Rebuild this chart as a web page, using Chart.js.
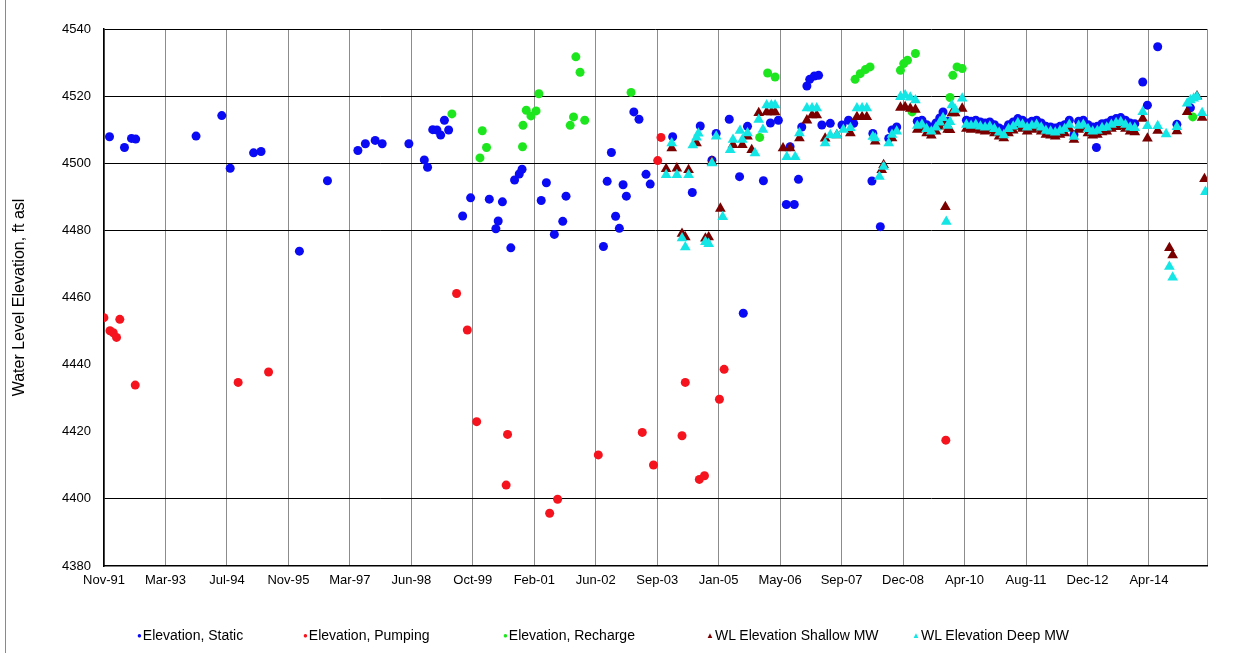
<!DOCTYPE html>
<html>
<head>
<meta charset="utf-8">
<script src="https://cdn.jsdelivr.net/npm/chart.js@4.4.1/dist/chart.umd.min.js"></script>
<style>
    html, body { margin: 0; padding: 0; background: #fff; }
    #wrap { position: relative; width: 1252px; height: 653px; overflow: hidden; }
    #frame { position: absolute; left: 5px; top: 0; width: 1px; height: 653px; background: #8a8a8a; }
    #legend { position: absolute; left: 137px; top: 627px; display: flex;
              font-family: 'Liberation Sans', Arial, sans-serif; font-size: 14px; color: #000; white-space: nowrap; }
    #legend .sym { font-size: 8px; margin-right: 1px; position: relative; top: -2px; }
</style>
</head>
<body>
<div id="wrap">
    <canvas id="chartWL" width="1252" height="653"></canvas>
    <div id="frame"></div>
    <div id="legend"></div>
</div>
<script>
// x values are decimal years, y values are ft asl
var xTickLabels = ['Nov-91', 'Mar-93', 'Jul-94', 'Nov-95', 'Mar-97', 'Jun-98', 'Oct-99', 'Feb-01', 'Jun-02',
    'Sep-03', 'Jan-05', 'May-06', 'Sep-07', 'Dec-08', 'Apr-10', 'Aug-11', 'Dec-12', 'Apr-14'];
var xFirstTick = 1991.912;        // 30-Nov-91
var xTickStep = 480 / 365.25;     // excel major unit = 480 days
var xMax = 2015.494;
var yDarkLines = [4400, 4480, 4500, 4520, 4540];

var staticElev = [
    [1992.03, 4507.9], [1992.35, 4504.7], [1992.50, 4507.4], [1992.59, 4507.2], [1993.88, 4508.1], [1994.43, 4514.2],
    [1994.61, 4498.5], [1995.11, 4503.1], [1995.27, 4503.5], [1996.09, 4473.8], [1996.69, 4494.8], [1997.34, 4503.8],
    [1997.50, 4505.8], [1997.71, 4506.8], [1997.86, 4505.8], [1998.43, 4505.8], [1998.76, 4501.0], [1998.83, 4498.8],
    [1998.94, 4510.0], [1999.03, 4509.9], [1999.11, 4508.4], [1999.19, 4512.8], [1999.28, 4509.9], [1999.58, 4484.3],
    [1999.75, 4489.7], [2000.15, 4489.3], [2000.29, 4480.5], [2000.34, 4482.8], [2000.43, 4488.5], [2000.61, 4474.8],
    [2000.69, 4495.0], [2000.79, 4496.8], [2000.85, 4498.2], [2001.26, 4488.9], [2001.37, 4494.2], [2001.54, 4478.8],
    [2001.72, 4482.7], [2001.79, 4490.2], [2002.59, 4475.2], [2002.67, 4494.6], [2002.76, 4503.2], [2002.85, 4484.2],
    [2002.93, 4480.6], [2003.01, 4493.6], [2003.08, 4490.2], [2003.24, 4515.3], [2003.35, 4513.1], [2003.50, 4496.7],
    [2003.59, 4493.8], [2004.07, 4507.9], [2004.49, 4491.3], [2004.66, 4511.1], [2004.91, 4500.9], [2005.00, 4508.9],
    [2005.28, 4513.1], [2005.50, 4496.0], [2005.58, 4455.3], [2005.67, 4511.0], [2006.01, 4494.8], [2006.16, 4512.0],
    [2006.33, 4512.8], [2006.50, 4487.7], [2006.58, 4504.9], [2006.67, 4487.7], [2006.76, 4495.2], [2006.83, 4510.8],
    [2006.94, 4523.0], [2007.00, 4525.0], [2007.10, 4526.0], [2007.19, 4526.2], [2007.26, 4511.4], [2007.44, 4511.9],
    [2007.69, 4511.4], [2007.83, 4512.8], [2007.94, 4511.9], [2008.33, 4494.7], [2008.35, 4508.9], [2008.51, 4481.1],
    [2008.69, 4507.4], [2008.76, 4509.9], [2008.86, 4510.8],
    [2009.30, 4512.5], [2009.40, 4512.8], [2009.50, 4511.5], [2009.60, 4510.8], [2009.70, 4512.0], [2009.78, 4513.5],
    [2009.85, 4515.3], [2009.95, 4512.5], [2010.35, 4512.8], [2010.45, 4512.5], [2010.55, 4512.8], [2010.65, 4512.3],
    [2010.75, 4512.0], [2010.85, 4512.3], [2010.95, 4511.5], [2011.05, 4510.5], [2011.15, 4510.0], [2011.25, 4511.5],
    [2011.35, 4512.3], [2011.45, 4513.3], [2011.55, 4512.8], [2011.65, 4512.0], [2011.75, 4512.5], [2011.85, 4512.8],
    [2011.95, 4512.0], [2012.05, 4511.0], [2012.15, 4510.8], [2012.25, 4510.5], [2012.35, 4511.0], [2012.45, 4511.5],
    [2012.55, 4512.8], [2012.65, 4508.5], [2012.75, 4512.5], [2012.85, 4512.8], [2012.95, 4511.5], [2013.05, 4510.8],
    [2013.13, 4504.7], [2013.15, 4511.0], [2013.25, 4511.8], [2013.35, 4512.0], [2013.45, 4512.8], [2013.55, 4513.3],
    [2013.65, 4513.6], [2013.75, 4512.8], [2013.85, 4512.0], [2013.95, 4511.8],
    [2014.12, 4524.2], [2014.22, 4517.3], [2014.44, 4534.7], [2014.85, 4511.6], [2015.14, 4516.5]
];

var pumpingElev = [
    [1991.91, 4454.0], [1992.04, 4450.1], [1992.11, 4449.5], [1992.18, 4448.1], [1992.25, 4453.5], [1992.58, 4433.9],
    [1994.78, 4434.7], [1995.43, 4437.8], [1999.45, 4461.2], [1999.68, 4450.3], [1999.88, 4423.0], [2000.51, 4404.1],
    [2000.54, 4419.2], [2001.44, 4395.7], [2001.61, 4399.9], [2002.48, 4413.1], [2003.42, 4419.8], [2003.66, 4410.1],
    [2003.75, 4500.8], [2003.82, 4507.7], [2004.27, 4418.8], [2004.34, 4434.7], [2004.64, 4405.8], [2004.75, 4406.9],
    [2005.07, 4429.7], [2005.17, 4438.6], [2009.91, 4417.5]
];

var rechargeElev = [
    [1999.35, 4514.7], [1999.95, 4501.6], [2000.00, 4509.7], [2000.09, 4504.7], [2000.86, 4504.9], [2000.87, 4511.3],
    [2000.94, 4515.8], [2001.04, 4514.1], [2001.15, 4515.6], [2001.21, 4520.7], [2001.88, 4511.3], [2001.95, 4513.8],
    [2002.00, 4531.7], [2002.09, 4527.1], [2002.19, 4512.8], [2003.18, 4521.1], [2005.93, 4507.7], [2006.10, 4526.9],
    [2006.26, 4525.7], [2007.97, 4525.0], [2008.08, 4526.7], [2008.19, 4527.9], [2008.29, 4528.7], [2008.94, 4527.7],
    [2009.01, 4529.7], [2009.09, 4530.7], [2009.19, 4515.3], [2009.26, 4532.7], [2010.00, 4519.6], [2010.06, 4526.2],
    [2010.15, 4528.7], [2010.26, 4528.2], [2015.19, 4513.8]
];

var shallowMW = [
    [2003.93, 4498.3], [2004.05, 4504.5], [2004.16, 4498.5], [2004.27, 4479.0], [2004.34, 4478.0], [2004.41, 4498.0],
    [2004.58, 4506.0], [2004.77, 4477.6], [2004.84, 4478.0], [2004.91, 4500.5], [2005.09, 4486.5], [2005.36, 4505.5],
    [2005.56, 4505.5], [2005.67, 4508.0], [2005.76, 4504.0], [2005.91, 4515.0], [2006.08, 4515.2], [2006.18, 4515.2],
    [2006.26, 4515.2], [2006.43, 4504.5], [2006.58, 4504.5], [2006.78, 4507.5], [2006.94, 4512.8], [2007.05, 4514.3],
    [2007.15, 4514.3], [2007.33, 4507.4], [2007.58, 4508.4], [2007.87, 4509.0], [2008.01, 4513.8], [2008.12, 4513.8],
    [2008.22, 4513.8], [2008.40, 4506.5], [2008.54, 4498.0], [2008.58, 4499.5], [2008.76, 4507.5], [2008.94, 4516.6],
    [2009.04, 4516.8], [2009.15, 4516.3], [2009.26, 4516.0],
    [2009.30, 4510.0], [2009.40, 4510.3], [2009.50, 4509.0], [2009.60, 4508.3], [2009.70, 4509.5], [2009.78, 4511.0],
    [2009.85, 4512.0], [2009.90, 4487.0], [2009.95, 4510.0], [2010.00, 4509.9], [2010.04, 4514.9], [2010.11, 4514.9],
    [2010.26, 4516.3], [2010.35, 4510.3], [2010.45, 4510.0], [2010.55, 4510.3], [2010.65, 4509.8], [2010.75, 4509.5],
    [2010.85, 4509.8], [2010.95, 4509.0], [2011.05, 4508.0], [2011.15, 4507.5], [2011.25, 4509.0], [2011.35, 4509.8],
    [2011.45, 4510.8], [2011.55, 4510.3], [2011.65, 4509.5], [2011.75, 4510.0], [2011.85, 4510.3], [2011.95, 4509.5],
    [2012.05, 4508.5], [2012.15, 4508.3], [2012.25, 4508.0], [2012.35, 4508.5], [2012.45, 4509.0], [2012.55, 4510.3],
    [2012.65, 4507.0], [2012.75, 4510.0], [2012.85, 4510.3], [2012.95, 4509.0], [2013.05, 4508.3], [2013.15, 4508.5],
    [2013.25, 4509.3], [2013.35, 4509.5], [2013.45, 4510.3], [2013.55, 4510.8], [2013.65, 4511.1], [2013.75, 4510.3],
    [2013.85, 4509.5], [2013.95, 4509.3],
    [2014.12, 4513.3], [2014.22, 4507.4], [2014.44, 4509.7], [2014.69, 4474.8], [2014.76, 4472.6], [2014.85, 4509.6],
    [2015.07, 4515.3], [2015.28, 4520.0], [2015.39, 4513.6], [2015.44, 4495.3]
];

var deepMW = [
    [2003.93, 4496.5], [2004.05, 4506.0], [2004.16, 4496.5], [2004.27, 4477.7], [2004.34, 4475.0], [2004.41, 4496.5],
    [2004.50, 4505.4], [2004.58, 4507.7], [2004.62, 4508.9], [2004.77, 4476.6], [2004.84, 4476.0], [2004.91, 4500.0],
    [2005.00, 4508.0], [2005.14, 4484.0], [2005.30, 4504.0], [2005.36, 4507.0], [2005.51, 4509.7], [2005.56, 4507.0],
    [2005.67, 4509.0], [2005.83, 4503.0], [2005.91, 4513.0], [2006.00, 4510.0], [2006.08, 4517.3], [2006.18, 4517.3],
    [2006.26, 4517.3], [2006.51, 4501.9], [2006.69, 4501.9], [2006.78, 4509.0], [2006.94, 4516.4], [2007.05, 4516.4],
    [2007.15, 4516.4], [2007.33, 4506.0], [2007.44, 4508.4], [2007.58, 4508.4], [2007.72, 4510.0], [2007.87, 4510.5],
    [2008.01, 4516.4], [2008.12, 4516.4], [2008.22, 4516.4], [2008.35, 4507.9], [2008.40, 4507.5], [2008.49, 4496.0],
    [2008.58, 4499.0], [2008.69, 4506.0], [2008.76, 4508.5], [2008.86, 4509.5], [2008.94, 4519.8], [2009.04, 4520.3],
    [2009.15, 4519.6], [2009.26, 4518.8],
    [2009.30, 4511.2], [2009.40, 4511.5], [2009.50, 4510.2], [2009.60, 4509.5], [2009.70, 4510.7], [2009.78, 4512.2],
    [2009.85, 4513.5], [2009.92, 4482.6], [2009.95, 4511.2], [2010.00, 4512.3], [2010.04, 4517.3], [2010.11, 4516.0],
    [2010.26, 4519.3], [2010.35, 4511.5], [2010.45, 4511.2], [2010.55, 4511.5], [2010.65, 4511.0], [2010.75, 4510.7],
    [2010.85, 4511.0], [2010.95, 4510.2], [2011.05, 4509.2], [2011.15, 4508.4], [2011.25, 4510.2], [2011.35, 4511.0],
    [2011.45, 4512.0], [2011.55, 4511.5], [2011.65, 4510.7], [2011.75, 4511.2], [2011.85, 4511.5], [2011.95, 4510.7],
    [2012.05, 4509.7], [2012.15, 4509.5], [2012.25, 4509.2], [2012.35, 4509.7], [2012.45, 4510.2], [2012.55, 4511.5],
    [2012.65, 4507.9], [2012.75, 4511.2], [2012.85, 4511.5], [2012.95, 4510.2], [2013.05, 4509.5], [2013.15, 4509.7],
    [2013.25, 4510.5], [2013.35, 4510.7], [2013.45, 4511.5], [2013.55, 4512.0], [2013.65, 4512.3], [2013.75, 4511.5],
    [2013.85, 4510.7], [2013.95, 4510.5],
    [2014.12, 4515.3], [2014.22, 4511.1], [2014.44, 4511.1], [2014.62, 4508.7], [2014.69, 4469.2], [2014.76, 4466.0],
    [2014.85, 4510.8], [2015.07, 4517.8], [2015.14, 4518.8], [2015.21, 4519.3], [2015.28, 4519.8], [2015.39, 4515.0],
    [2015.46, 4491.5]
];

function toXY(arr) {
    return arr.map(function (p) { return { x: p[0], y: p[1] }; });
}

Chart.defaults.font.family = "'Liberation Sans', Arial, sans-serif";
Chart.defaults.color = '#000';

var seriesDefs = [
    { label: 'Elevation, Static', data: staticElev, color: '#0a0af5', style: 'circle', radius: 4.5, order: 5 },
    { label: 'Elevation, Pumping', data: pumpingElev, color: '#f5141e', style: 'circle', radius: 4.5, order: 4 },
    { label: 'Elevation, Recharge', data: rechargeElev, color: '#1ee61e', style: 'circle', radius: 4.5, order: 3 },
    { label: 'WL Elevation Shallow MW', data: shallowMW, color: '#7a0000', style: 'triangle', radius: 6.2, order: 2 },
    { label: 'WL Elevation Deep MW', data: deepMW, color: '#14e6e6', style: 'triangle', radius: 6.2, order: 1 }
];
// width of each legend slot, px
var legendSlots = [166, 200, 203, 206, 190];

var objDatasets = [];
for (var s of seriesDefs) {
    objDatasets.push({
        label: s.label,
        data: toXY(s.data),
        pointStyle: s.style,
        pointRadius: s.radius,
        backgroundColor: s.color,
        borderColor: s.color,
        borderWidth: 0,
        order: s.order
    });
}

var ctx = document.getElementById('chartWL').getContext('2d');
var wlChart = new Chart(ctx, {
    type: 'scatter',
    data: { datasets: objDatasets },
    options: {
        responsive: false,
        animation: false,
        layout: { padding: { left: 0, top: 29, right: 45, bottom: 57 } },
        plugins: {
            legend: { display: false },
            tooltip: { enabled: false }
        },
        scales: {
            x: {
                type: 'linear',
                min: xFirstTick,
                max: xMax,
                afterBuildTicks: function (scale) {
                    var t = [];
                    for (var i = 0; i < xTickLabels.length; i++) {
                        t.push({ value: xFirstTick + i * xTickStep });
                    }
                    t.push({ value: xMax });
                    scale.ticks = t;
                },
                afterFit: function (scale) { scale.height = 30; },
                ticks: {
                    autoSkip: false,
                    maxRotation: 0,
                    padding: 7,
                    font: { size: 13 },
                    callback: function (value, index) { return xTickLabels[index] || ''; }
                },
                grid: { color: '#8c8c8c', lineWidth: 1, drawTicks: false },
                border: { color: '#000', width: 1.5 }
            },
            y: {
                min: 4380,
                max: 4540,
                ticks: {
                    stepSize: 20,
                    padding: 13,
                    font: { size: 13 },
                    callback: function (value) { return String(value); }
                },
                afterFit: function (scale) { scale.width = 104; },
                grid: {
                    drawTicks: false,
                    color: function (c) {
                        return yDarkLines.indexOf(c.tick.value) >= 0 ? '#000' : 'rgba(0,0,0,0)';
                    }
                },
                border: { color: '#000', width: 1.5 },
                title: {
                    display: true,
                    text: 'Water Level Elevation, ft asl',
                    font: { size: 16 },
                    padding: { top: 10, bottom: 0 }
                }
            }
        }
    }
});

// legend below the plot, drawn as html text
var legendDiv = document.getElementById('legend');
var k = 0;
for (var d of seriesDefs) {
    var item = document.createElement('span');
    item.style.width = legendSlots[k++] + 'px';
    var sym = document.createElement('span');
    sym.className = 'sym';
    sym.style.color = d.color;
    sym.textContent = d.style === 'circle' ? '\u25CF' : '\u25B2';
    item.appendChild(sym);
    item.appendChild(document.createTextNode(d.label));
    legendDiv.appendChild(item);
}
</script>
</body>
</html>
